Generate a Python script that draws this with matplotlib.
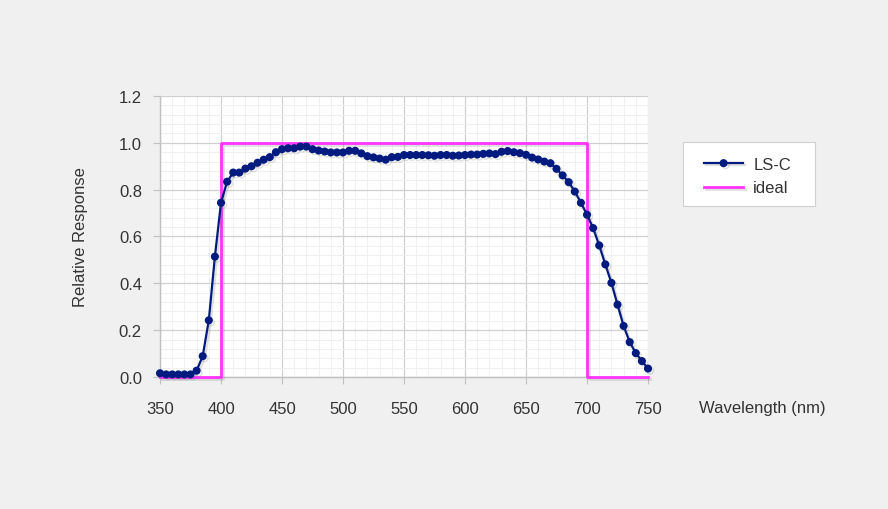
import numpy as np
import matplotlib
matplotlib.use('Agg')
from matplotlib import pyplot as plt
from matplotlib import patheffects as pe
from matplotlib.patches import Rectangle
from matplotlib.ticker import MultipleLocator

plt.rcParams['font.family'] = ['Liberation Sans', 'DejaVu Sans']

# measured response, 5 nm steps
wavelength = list(range(350, 755, 5))
ls_c = [0.016, 0.011, 0.011, 0.011, 0.011, 0.011, 0.027, 0.089, 0.242, 0.514,
        0.744, 0.834, 0.873, 0.873, 0.890, 0.900, 0.915, 0.928, 0.939, 0.960,
        0.973, 0.977, 0.977, 0.984, 0.984, 0.973, 0.967, 0.963, 0.959, 0.959,
        0.959, 0.966, 0.966, 0.955, 0.943, 0.938, 0.933, 0.928, 0.939, 0.940,
        0.948, 0.948, 0.948, 0.948, 0.947, 0.945, 0.948, 0.948, 0.945, 0.946,
        0.948, 0.950, 0.950, 0.953, 0.955, 0.952, 0.962, 0.965, 0.960, 0.956,
        0.949, 0.937, 0.929, 0.920, 0.913, 0.889, 0.861, 0.832, 0.792, 0.744,
        0.693, 0.636, 0.562, 0.481, 0.402, 0.309, 0.218, 0.149, 0.102, 0.068,
        0.036]

# ideal band 400-700 nm
ideal_x = [350, 400, 400, 700, 700, 750]
ideal_y = [0, 0, 1, 1, 0, 0]

fig = plt.figure(figsize=(8.88, 5.10), dpi=100, facecolor='#f0f0f0')
ax = fig.add_axes([160/888, 1-378/510, 488/888, 281/510])
ax.set_facecolor('white')

shadow = [pe.SimpleLineShadow(offset=(1.5, -1.5), alpha=0.2, shadow_color='#666666'), pe.Normal()]
ax.plot(ideal_x, ideal_y, color='#ff33ff', lw=2, label='ideal', zorder=3,
        path_effects=shadow, clip_on=False)
ax.plot(wavelength, ls_c, color='#001a80', lw=1.6, marker='o', ms=4.8,
        label='LS-C', zorder=4, path_effects=shadow, clip_on=False)

ax.set_xlim(350, 750)
ax.set_ylim(0, 1.2)
ax.xaxis.set_major_locator(MultipleLocator(50))
ax.xaxis.set_minor_locator(MultipleLocator(10))
ax.yaxis.set_major_locator(MultipleLocator(0.2))
ax.yaxis.set_minor_locator(MultipleLocator(0.04))
ax.yaxis.set_major_formatter(matplotlib.ticker.FormatStrFormatter('%.1f'))
ax.grid(which='major', color='#d0d0d0', lw=0.9)
ax.grid(which='minor', color='#f0f0f0', lw=0.7)
ax.set_axisbelow(True)

for s in ['top', 'right']:
    ax.spines[s].set_visible(False)
for s in ['left', 'bottom']:
    ax.spines[s].set_color('#c0c0c0')
    ax.spines[s].set_linewidth(1)
ax.tick_params(which='major', length=5, color='#c0c0c0', labelsize=12,
               labelcolor='#333333')
ax.tick_params(axis='x', pad=12)
ax.tick_params(axis='y', pad=8)
ax.tick_params(which='minor', length=0)

ax.set_ylabel('Relative Response', fontsize=12, color='#333333', labelpad=22)
fig.text(699/888, 1-408/510, 'Wavelength (nm)', fontsize=12, color='#333333',
         ha='left', va='center')

# legend box drawn separately
fig.patches.append(Rectangle((683/888, 1-207/510), 132/888, 64/510,
                             transform=fig.transFigure, facecolor='white',
                             edgecolor='#d0d0d0', lw=0.8, zorder=1))
h, l = ax.get_legend_handles_labels()
leg = fig.legend(h[::-1], l[::-1], loc='upper left', bbox_to_anchor=(704/888, 1-158/510),
                 frameon=False, fontsize=12, borderpad=0, borderaxespad=0,
                 handlelength=2.35, handletextpad=0.6, labelspacing=0.5)
for t in leg.get_texts():
    t.set_color('#333333')

fig.savefig('out.png', dpi=100, facecolor=fig.get_facecolor())
